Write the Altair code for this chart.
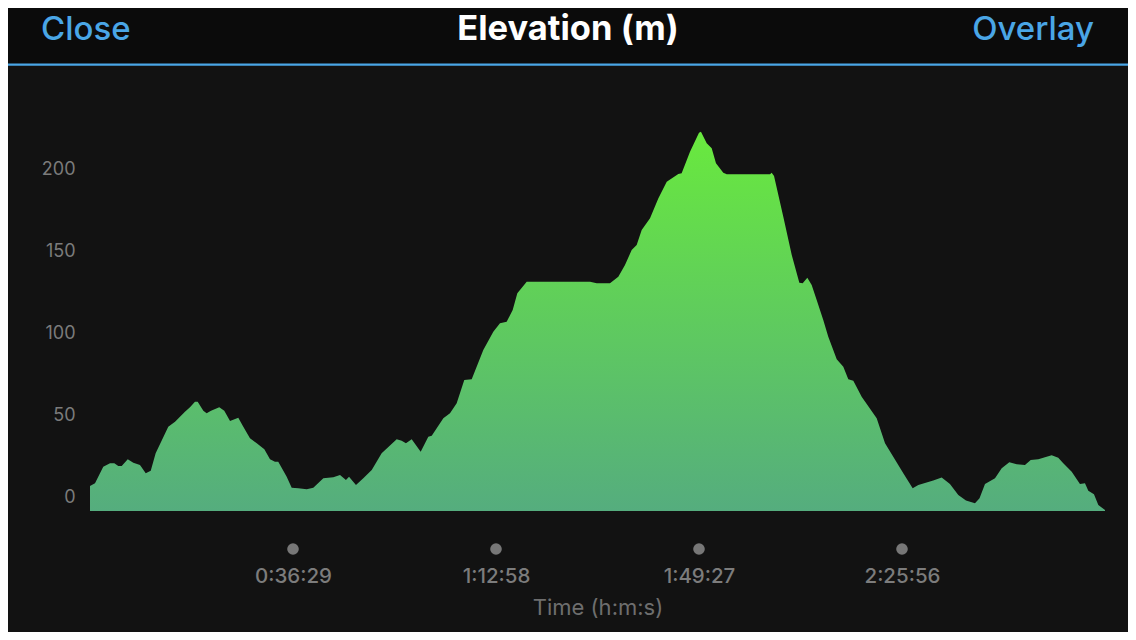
import altair as alt
import pandas as pd

# --- data: elevation profile ------------------------------------------------
# time in seconds from the start, elevation in metres
time_s = [
    0, 54, 143, 216, 262, 305, 342, 407, 467, 539,
    601, 655, 708, 844, 917, 1024, 1078, 1132, 1161, 1222,
    1258, 1305, 1394, 1448, 1510, 1599, 1653, 1725, 1798, 1880,
    1941, 1995, 2030, 2121, 2175, 2246, 2337, 2408, 2516, 2624,
    2696, 2760, 2793, 2868, 2947, 3038, 3145, 3307, 3361, 3407,
    3469, 3566, 3648, 3685, 3810, 3882, 3954, 4036, 4116, 4241,
    4349, 4421, 4493, 4558, 4608, 4709, 4780, 5392, 5464, 5607,
    5697, 5769, 5841, 5895, 5949, 6039, 6128, 6219, 6344, 6380,
    6470, 6567, 6588, 6650, 6704, 6750, 6829, 6866, 7333, 7351,
    7376, 7476, 7567, 7649, 7685, 7735, 7782, 7836, 7907, 7961,
    8052, 8123, 8177, 8231, 8321, 8483, 8573, 8770, 8871, 8932,
    9093, 9184, 9273, 9363, 9446, 9543, 9592, 9651, 9759, 9831,
    9913, 9993, 10082, 10144, 10226, 10316, 10370, 10441, 10495, 10586,
    10675, 10729, 10765, 10826, 10873, 10945,
]
elevation_m = [
    15.3, 16.9, 27.0, 29.1, 29.1, 27.5, 27.5, 31.6, 29.5, 28.1,
    23.0, 24.6, 35.2, 51.4, 54.5, 60.6, 63.3, 66.7, 66.7, 61.2,
    59.6, 61.2, 63.3, 61.2, 54.9, 56.9, 51.4, 44.4, 41.3, 37.7,
    31.6, 30.1, 30.1, 20.9, 14.2, 13.9, 13.2, 14.2, 20.0, 20.6,
    22.0, 18.9, 20.9, 15.9, 20.0, 25.0, 35.2, 43.8, 42.9, 41.3,
    43.8, 36.2, 45.3, 46.0, 56.6, 59.6, 65.7, 80.0, 80.4, 98.3,
    109.4, 114.6, 115.5, 122.7, 132.9, 139.9, 139.9, 139.9, 139.0, 139.0,
    143.0, 150.1, 159.3, 162.3, 171.5, 178.6, 190.8, 201.0, 205.7, 206.1,
    219.3, 230.9, 231.5, 224.4, 221.4, 212.2, 206.5, 205.5, 205.5, 206.5,
    204.5, 179.6, 156.2, 139.3, 139.0, 142.4, 137.9, 128.8, 116.6, 106.4,
    92.6, 88.1, 80.4, 79.5, 69.8, 56.6, 41.3, 23.0, 13.9, 15.9,
    18.6, 20.4, 16.5, 9.8, 6.4, 4.7, 7.8, 16.5, 20.0, 26.1,
    29.7, 28.5, 28.1, 31.1, 31.6, 33.1, 34.0, 32.5, 29.1, 24.0,
    16.5, 16.9, 12.4, 10.2, 3.7, 0.6,
]
total_s = 10945  # 3:02:25

x_tick_labels = ["0:36:29", "1:12:58", "1:49:27", "2:25:56"]
y_ticks = [0, 50, 100, 150, 200]

header_left = "Close"
header_title = "Elevation (m)"
header_right = "Overlay"
x_title = "Time (h:m:s)"


def to_seconds(label):
    h, m, s = (int(p) for p in label.split(":"))
    return h * 3600 + m * 60 + s


tick_s = [to_seconds(t) for t in x_tick_labels]

profile = pd.DataFrame({"t": time_s, "elev": elevation_m})
ticks_df = pd.DataFrame({"t": tick_s})

# --- styles ------------------------------------------------------------------
FONT = "Inter"
BG = "#121212"
HEADER_BG = "#0b0b0b"
BLUE = "#4aa6e6"

# h:mm:ss from seconds
fmt_hms = (
    "floor(datum.value / 3600) + ':' "
    "+ (floor(datum.value % 3600 / 60) < 10 ? '0' : '') + floor(datum.value % 3600 / 60) + ':' "
    "+ (datum.value % 60 < 10 ? '0' : '') + datum.value % 60"
)

x_enc = alt.X(
    "t:Q",
    scale=alt.Scale(domain=[0, total_s], nice=False, zero=False),
    axis=alt.Axis(
        values=tick_s,
        labelExpr=fmt_hms,
        title=x_title,
        titleFont=FONT,
        titleFontSize=22,
        titleFontWeight="normal",
        titleColor="#6e6e6e",
        titleY=96,
        titleBaseline="middle",
        labelFont=FONT,
        labelFontSize=20.5,
        labelFontWeight=500,
        labelColor="#7c7c7c",
        labelBaseline="middle",
        labelPadding=65,
        ticks=False,
        tickSize=0,
        domain=False,
        grid=False,
    ),
)

# --- layers ------------------------------------------------------------------
area = (
    alt.Chart(profile)
    .mark_area(
        line=False,
        color=alt.Gradient(
            gradient="linear",
            stops=[
                alt.GradientStop(color="#55ad7e", offset=0),
                alt.GradientStop(color="#69e93e", offset=1),
            ],
            x1=1, x2=1, y1=1, y2=0,
        ),
    )
    .encode(
        x=x_enc,
        y=alt.Y(
            "elev:Q",
            scale=alt.Scale(domain=[0, 260], nice=False),
            axis=alt.Axis(
                values=y_ticks,
                title=None,
                labelFont=FONT,
                labelFontSize=18,
                labelColor="#7b7b7b",
                labelPadding=15,
                labelOffset=-14,
                ticks=False,
                tickSize=0,
                domain=False,
                grid=False,
            ),
        ),
    )
)

# round markers under the time ticks
dots = (
    alt.Chart(ticks_df)
    .mark_point(filled=True, size=135, color="#777777", opacity=1)
    .encode(x=alt.X("t:Q"), y=alt.value(464))
)

# header bar + blue divider
header_bar = (
    alt.Chart(pd.DataFrame({"k": [0]}))
    .mark_rect(color=HEADER_BG)
    .encode(x=alt.value(-82), x2=alt.value(1038), y=alt.value(-77), y2=alt.value(-21))
)
divider = (
    alt.Chart(pd.DataFrame({"k": [0]}))
    .mark_rect(color=BLUE)
    .encode(x=alt.value(-82), x2=alt.value(1038), y=alt.value(-21.5), y2=alt.value(-19.3))
)

close_txt = (
    alt.Chart(pd.DataFrame({"label": [header_left]}))
    .mark_text(font=FONT, fontSize=33, fontWeight=500, color=BLUE, align="left", baseline="middle")
    .encode(text="label:N", x=alt.value(-49), y=alt.value(-55))
)
title_txt = (
    alt.Chart(pd.DataFrame({"label": [header_title]}))
    .mark_text(font=FONT, fontSize=34.5, fontWeight="bold", color="#ffffff", align="center", baseline="middle")
    .encode(text="label:N", x=alt.value(478), y=alt.value(-55))
)
overlay_txt = (
    alt.Chart(pd.DataFrame({"label": [header_right]}))
    .mark_text(font=FONT, fontSize=33, fontWeight=500, color=BLUE, align="right", baseline="middle")
    .encode(text="label:N", x=alt.value(1004), y=alt.value(-55))
)

# page margin is 8px, so the plot origin sits at (82, 77) inside the svg
chart = (
    alt.layer(header_bar, divider, close_txt, title_txt, overlay_txt, area, dots)
    .properties(
        width=1015,
        height=426,
        autosize=alt.AutoSizeParams(type="none"),
        padding={"left": 82, "top": 77, "right": 23, "bottom": 121},
        background=BG,
    )
    .configure_view(stroke=None)
)

chart.save("out.html", embed_options={"renderer": "svg", "actions": False})
